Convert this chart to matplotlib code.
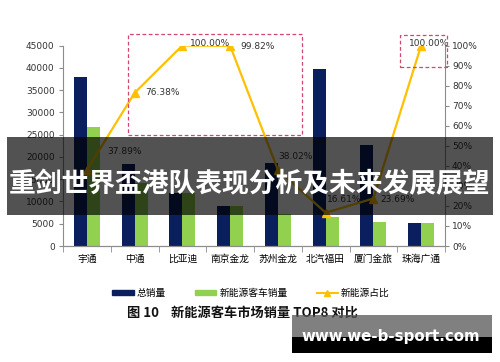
import numpy as np
import matplotlib.pyplot as plt
from matplotlib.patches import Rectangle
from matplotlib.lines import Line2D
from matplotlib.ticker import FuncFormatter

plt.rcParams['font.family'] = ['Noto Sans CJK SC', 'DejaVu Sans']

# --- DATA ---
brands = ['宇通', '中通', '比亚迪', '南京金龙', '苏州金龙', '北汽福田', '厦门金旅', '珠海广通']
total_sales = [38000, 18500, 12000, 9000, 18700, 39800, 22700, 5200]
nev_sales = [26800, 14100, 12000, 9000, 7100, 6600, 5400, 5200]
nev_share = [37.89, 76.38, 100.00, 99.82, 38.02, 16.61, 23.69, 100.00]

# label offsets in pixels (dx, dy) for the share labels
label_offsets = [(20, 19), (11, 0), (8, 2), (10, -1), (0, 13), (1, 13), (7, -1), (-12, 2)]

NAVY = '#0B1F5E'
GREEN = '#92D050'
GOLD = '#FFC000'
AXIS_GREY = '#8C8C8C'

fig = plt.figure(figsize=(5, 3.62), dpi=100)
ax = fig.add_axes([63/500, 1-246/362, (445-63)/500, (246-45.5)/362])
ax2 = ax.twinx()

x = np.arange(len(brands))
w = 0.27
ax.bar(x - w/2, total_sales, w, color=NAVY, zorder=2)
ax.bar(x + w/2, nev_sales, w, color=GREEN, zorder=2)

share = np.array(nev_share) / 100
ax2.plot(x, share, color=GOLD, lw=1.6, marker='^', ms=5.5, zorder=3)
for xi, yi, txt, (dx, dy) in zip(x, share, nev_share, label_offsets):
    ax2.annotate(f'{txt:.2f}%', xy=(xi, yi), xytext=(dx, dy), textcoords='offset pixels',
                 ha='left', va='center', fontsize=6.5, color='#333333',
                 family='DejaVu Sans')

ax.set_xlim(-0.5, len(brands) - 0.5)
ax.set_ylim(0, 45000)
ax2.set_ylim(0, 1.0)
ax.set_yticks(np.arange(0, 45001, 5000))
ax2.set_yticks(np.arange(0, 1.01, 0.1))
ax2.yaxis.set_major_formatter(FuncFormatter(lambda v, p: f'{v*100:.0f}%'))

ax.set_xticks(x)
ax.set_xticklabels(brands, fontsize=7)
ax.set_xticks(np.arange(-0.5, len(brands), 1), minor=True)
ax.tick_params(axis='x', which='major', length=0, pad=6)
ax.tick_params(axis='x', which='minor', length=4, color=AXIS_GREY)
ax.tick_params(axis='y', length=3, color=AXIS_GREY, labelsize=6.5, pad=3)
ax2.tick_params(axis='y', length=3, color=AXIS_GREY, labelsize=6.5, pad=2)
for lab in ax.get_yticklabels() + ax2.get_yticklabels():
    lab.set_family('DejaVu Sans')
    lab.set_color('#333333')

for a in (ax, ax2):
    a.spines['top'].set_visible(False)
    for s in ('left', 'right', 'bottom'):
        a.spines[s].set_color(AXIS_GREY)
        a.spines[s].set_linewidth(0.8)
ax2.spines['left'].set_visible(False)
ax.spines['right'].set_visible(False)

# dashed highlight boxes
def px_rect(x0, y0, x1, y1, **kw):
    return Rectangle((x0/500, 1-y1/362), (x1-x0)/500, (y1-y0)/362,
                     transform=fig.transFigure, **kw)

fig.add_artist(px_rect(128, 34, 302, 135, fill=False, ec='#D2476E', ls=(0, (3, 2)), lw=0.9))
fig.add_artist(px_rect(400, 35, 447, 67, fill=False, ec='#D2476E', ls=(0, (3, 2)), lw=0.9))

# legend
handles = [Rectangle((0, 0), 1, 1, color=NAVY),
           Rectangle((0, 0), 1, 1, color=GREEN),
           Line2D([], [], color=GOLD, marker='^', ms=4, lw=1.4)]
fig.legend(handles, ['总销量', '新能源客车销量', '新能源占比'], loc='center',
           bbox_to_anchor=(0.502, 1-293/362), ncol=3, frameon=False, fontsize=7,
           handlelength=2.2, handleheight=0.5, columnspacing=3.0, handletextpad=0.3)

# caption
fig.text(127/500, 1-313/362, '图 10    新能源客车市场销量 TOP8 对比', fontsize=9.5,
         fontweight='bold', ha='left', va='center', color='#111111')

# overlay banner
fig.add_artist(px_rect(7, 137, 493, 215, color='black', alpha=0.68, lw=0, zorder=10))
fig.text(0.5, 1-184/362, '重剑世界盃港队表现分析及未来发展展望', fontsize=19.3,
         fontweight='bold', color='white', ha='center', va='center', zorder=11)

# watermark
fig.add_artist(px_rect(292, 315, 492, 337, color='#555555', alpha=0.75, lw=0, zorder=10))
fig.add_artist(px_rect(292, 337, 492, 353, color='black', lw=0, zorder=10))
fig.text(391/500, 1-337/362, 'www.we-b-sport.com', fontsize=10.8, fontweight='bold',
         color='white', ha='center', va='center', family='DejaVu Sans', zorder=11)

fig.savefig('out.png', dpi=100)
